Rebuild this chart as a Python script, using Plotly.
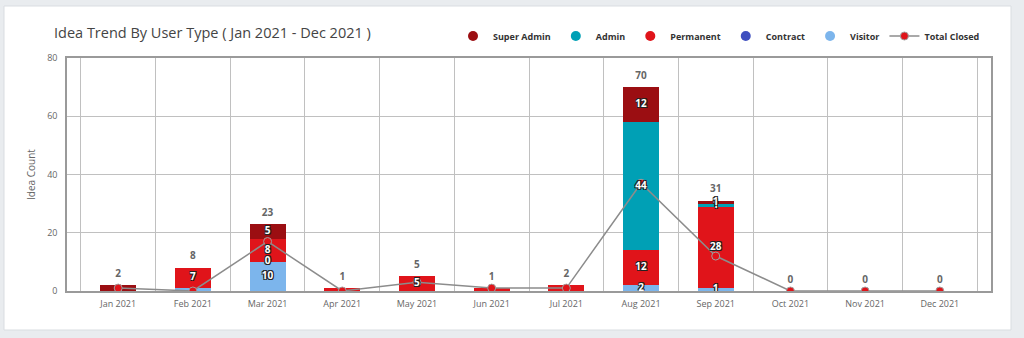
import plotly.graph_objects as go

months = ["Jan 2021", "Feb 2021", "Mar 2021", "Apr 2021", "May 2021", "Jun 2021",
          "Jul 2021", "Aug 2021", "Sep 2021", "Oct 2021", "Nov 2021", "Dec 2021"]

super_admin = [2, None, 5, None, None, None, None, 12, 1, None, None, None]
admin       = [None, None, None, None, None, None, None, 44, 1, None, None, None]
permanent   = [None, 7, 8, 1, 5, 1, 2, 12, 28, None, None, None]
contract    = [None, None, 0, None, None, None, None, None, None, None, None, None]
visitor     = [None, 1, 10, None, None, None, None, 2, 1, None, None, None]
total_closed = [1, 0, 17, 0, 3, 1, 1, 37, 12, 0, 0, 0]

# months whose stacked segments carry an inside value label in the original
label_months = ["Feb 2021", "Mar 2021", "May 2021", "Aug 2021", "Sep 2021"]

# stacking order bottom -> top (Highcharts draws first series on top)
series = [
    ("Visitor", visitor, "#7cb5ec"),
    ("Contract", contract, "#3f4fbf"),
    ("Permanent", permanent, "#e0141a"),
    ("Admin", admin, "#00a0b5"),
    ("Super Admin", super_admin, "#9b0e12"),
]
legend_order = ["Super Admin", "Admin", "Permanent", "Contract", "Visitor"]

fig = go.Figure()

base = [0.0] * len(months)
label_x, label_y, label_t = [], [], []
for name, vals, color in series:
    yv = [v if v is not None else 0 for v in vals]
    fig.add_trace(go.Bar(
        x=months, y=yv, name=name, marker=dict(color=color, line=dict(width=0)),
        showlegend=False, legendgroup=name, hoverinfo="skip",
    ))
    for i, v in enumerate(vals):
        if v is not None and months[i] in label_months:
            if not (name == "Visitor" and months[i] == "Feb 2021"):
                label_x.append(months[i])
                label_y.append(base[i] + v / 2)
                label_t.append(str(v))
        base[i] += yv[i]

totals = base

colors = {n: c for n, _, c in series}
for n in legend_order:
    fig.add_trace(go.Scatter(
        x=[None], y=[None], mode="markers", name=n, legendgroup=n,
        marker=dict(color=colors[n], size=10, symbol="circle"),
    ))

fig.add_trace(go.Scatter(
    x=months, y=total_closed, mode="lines+markers", name="Total Closed",
    line=dict(color="#8c8c8c", width=1.5),
    marker=dict(color="#e0141a", size=8, line=dict(color="#a0a0a0", width=1)),
    hoverinfo="skip",
))

fig.add_trace(go.Scatter(
    x=label_x, y=label_y, mode="text", text=label_t, showlegend=False,
    textposition="middle center", hoverinfo="skip",
    textfont=dict(family="Open Sans", size=10, color="white", weight="bold",
                  shadow="-1px -1px 0 #222, 1px -1px 0 #222, -1px 1px 0 #222, 1px 1px 0 #222"),
))

fig.add_trace(go.Scatter(
    x=months, y=totals, mode="markers+text", text=[str(int(t)) for t in totals],
    textposition="top center", showlegend=False, hoverinfo="skip",
    marker=dict(size=8, color="rgba(0,0,0,0)"),
    textfont=dict(family="Open Sans", size=10, color="#666666", weight="bold"),
))

W, H = 1024, 338
l, r, t, b = 67, 33, 58, 47
pw, ph = W - l - r, H - t - b

def px_x(p):
    return (p - l) / pw

def px_y(p):
    return (H - b - p) / ph

fig.add_shape(type="rect", xref="paper", yref="paper",
              x0=px_x(4), x1=px_x(1011), y0=px_y(330), y1=px_y(6),
              fillcolor="white", line=dict(color="#d9dde1", width=1), layer="below")

fig.update_layout(
    width=W, height=H, barmode="stack", bargap=0.52,
    margin=dict(l=l, r=r, t=t, b=b, autoexpand=False),
    paper_bgcolor="#e9ecef", plot_bgcolor="white",
    font=dict(family="Open Sans", color="#666666"),
    title=dict(text="Idea Trend By User Type ( Jan 2021 - Dec 2021 )",
               x=54 / W, xref="container", xanchor="left",
               y=1 - 33 / H, yref="container", yanchor="middle",
               font=dict(family="Open Sans", size=14.5, color="#444444")),
    legend=dict(orientation="h", x=px_x(985), xanchor="right", y=px_y(36), yanchor="middle",
                font=dict(family="Open Sans", size=9, color="#333333", weight="bold"),
                itemwidth=30, bgcolor="rgba(0,0,0,0)", traceorder="normal"),
    showlegend=True,
)

fig.update_xaxes(
    type="category", tickson="boundaries", showgrid=True, gridcolor="#c0c0c0", gridwidth=1,
    showline=True, linecolor="#9a9a9a", linewidth=1.5, mirror=True,
    ticks="", tickfont=dict(size=9, color="#666666"), ticklabelstandoff=3,
    zeroline=False, fixedrange=True,
)
fig.update_yaxes(
    range=[0, 80], dtick=20, showgrid=True, gridcolor="#c0c0c0", gridwidth=1,
    showline=True, linecolor="#9a9a9a", linewidth=1.5, mirror=True,
    ticks="", tickfont=dict(size=9, color="#666666"), ticklabelstandoff=6,
    title=dict(text="Idea Count", font=dict(size=10, color="#666666"), standoff=10),
    zeroline=False, fixedrange=True,
)

fig.write_html("out.html")
